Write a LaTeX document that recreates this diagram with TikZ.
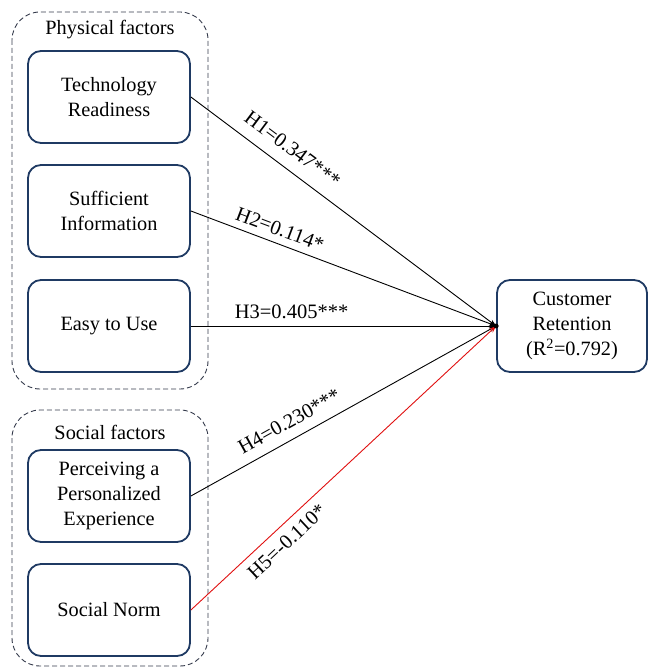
\documentclass[tikz,border=0pt]{standalone}
\usepackage{fontspec}
\setmainfont{Liberation Serif}
\usetikzlibrary{arrows.meta}
\definecolor{navy}{HTML}{1F3A63}
\definecolor{grp}{HTML}{353B4C}
\definecolor{hred}{HTML}{E01010}
\begin{document}
\begin{tikzpicture}[x=1pt,y=-1pt,
  factor/.style={draw=navy,line width=1.8pt,rounded corners=13pt,minimum width=162pt,minimum height=92pt,align=center,inner sep=0pt,font=\fontsize{20.3}{25}\selectfont},
  group/.style={draw=grp,line width=0.9pt,dash pattern=on 5pt off 3pt,rounded corners=28pt},
  grouplabel/.style={font=\fontsize{20.3}{24}\selectfont},
  hyp/.style={line width=0.9pt,-{Stealth[length=7pt,width=5pt]}},
  hlabel/.style={font=\fontsize{20.5}{24}\selectfont,sloped,inner sep=7pt}]
\useasboundingbox (0,0) rectangle (650,668);
% groups
\draw[group] (12,12) rectangle (208,389);
\draw[group] (12,410) rectangle (208,666);
\node[grouplabel] (pf) at (110,30) {Physical factors};
\node[grouplabel] (sf) at (110,432) {Social factors};
% factor boxes
\node[factor] (tr) at (109,97) {Technology\\Readiness};
\node[factor] (si) at (109,211) {Sufficient\\Information};
\node[factor] (eu) at (109,326) {Easy to Use};
\node[factor] (pe) at (109,496) {Perceiving a\\Personalized\\Experience};
\node[factor] (sn) at (109,610) {Social Norm};
% target
\node[factor,minimum width=150pt] (cr) at (572,326) {Customer\\Retention\\(R\textsuperscript{2}=0.792)};
\coordinate (tip) at (cr.west);
% connectors
\draw[hyp] (tr.east) -- node[hlabel,above,pos=0.295,inner sep=12pt] (l1) {H1=0.347***} (tip);
\draw[hyp] (si.east) -- node[hlabel,above,pos=0.275] (l2) {H2=0.114*} (tip);
\draw[hyp] (eu.east) -- node[hlabel,above,pos=0.33] (l3) {H3=0.405***} (tip);
\draw[hyp] (pe.east) -- node[hlabel,above,pos=0.35,inner sep=10pt] (l4) {H4=0.230***} (tip);
\draw[hyp,draw=hred] (sn.east) -- node[hlabel,below,pos=0.28,text=black,inner sep=8pt] (l5) {H5=-0.110*} (tip);
\fill (tip) circle (2.5pt);
\end{tikzpicture}
\end{document}
